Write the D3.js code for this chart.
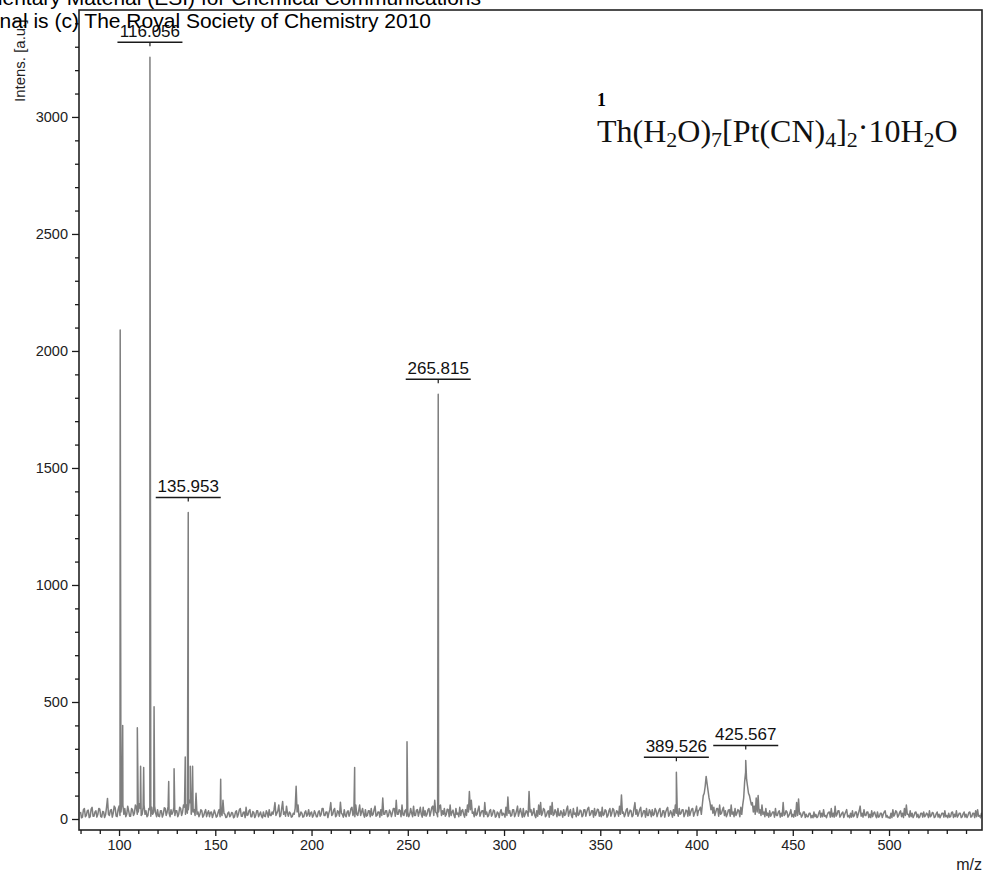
<!DOCTYPE html>
<html>
<head>
<meta charset="utf-8">
<script src="https://cdn.jsdelivr.net/npm/d3@7"></script>
<style>
  html, body { margin: 0; padding: 0; background: #fff; }
  svg { display: block; }
  text { font-family: "Liberation Sans", Arial, sans-serif; }
</style>
</head>
<body>
<svg id="chart" width="985" height="875"></svg>
<script>
// Mass spectrum of Th(H2O)7[Pt(CN)4]2·10H2O

// Baseline profile sampled every 0.5 m/z, starting at m/z 80 (one row per 10 m/z)
const profileStartMz = 80;
const profileStepMz = 0.5;
const profileIntensity = [
  30,5, 8,40, 45,10, 15,35, 38,6, 10,42, 50,12, 12,30, 35,8, 20,45,          // 80
  42,10, 8,32, 30,6, 18,50, 88,20, 15,38, 40,8, 25,55, 48,12, 10,40,         // 90
  55,15, 30,70, 60,20, 45,10, 20,55, 35,12, 12,45, 40,15, 25,60, 50,20,      // 100
  30,65, 45,15, 20,50, 60,20, 35,10, 15,45, 40,12, 50,20, 30,55, 25,10,      // 110
  40,12, 10,35, 35,8, 20,48, 45,15, 30,55, 25,10, 40,20, 30,50, 15,35,       // 120
  35,10, 20,50, 45,15, 30,60, 50,20, 60,25, 40,80, 70,20, 55,30, 40,15,      // 130
  110,20, 30,10, 20,40, 35,8, 15,30, 40,10, 25,35, 10,28, 30,6, 20,38,       // 140
  25,8, 12,30, 40,10, 30,15, 80,25, 20,6, 8,25, 30,10, 15,28, 25,5,          // 150
  10,30, 35,8, 20,40, 45,12, 12,28, 30,6, 50,15, 18,35, 40,10, 10,32,        // 160
  28,6, 15,35, 35,10, 20,30, 12,5, 30,12, 10,35, 25,8, 40,15, 15,30,         // 170
  20,40, 70,15, 25,35, 60,10, 15,45, 75,20, 30,12, 55,25, 12,30, 25,8,       // 180
  10,25, 20,45, 140,30, 60,10, 15,30, 25,8, 10,28, 35,12, 20,40, 12,25,      // 190
  30,8, 15,35, 25,10, 10,30, 35,12, 20,45, 45,15, 15,30, 30,6, 25,40,        // 200
  70,15, 20,38, 45,10, 15,35, 30,12, 72,25, 20,8, 40,15, 10,30, 35,12,       // 210
  25,45, 50,15, 30,10, 60,20, 15,35, 60,15, 30,45, 20,8, 40,12, 15,35,       // 220
  35,10, 45,15, 20,40, 55,12, 15,30, 30,8, 40,15, 90,20, 20,35, 35,10,       // 230
  15,38, 30,10, 25,45, 45,12, 80,20, 20,40, 35,10, 60,18, 15,35, 40,12,      // 240
  30,10, 20,45, 25,10, 55,15, 15,38, 40,12, 30,50, 20,8, 50,15, 35,12,       // 250
  20,40, 45,12, 30,50, 55,15, 80,30, 25,10, 30,55, 60,15, 35,20, 45,12,      // 260
  20,42, 40,10, 60,15, 30,38, 15,6, 45,20, 25,10, 50,15, 35,40, 20,8,        // 270
  40,15, 60,30, 117,40, 80,25, 30,10, 45,15, 20,40, 55,12, 25,35, 35,10,     // 280
  70,20, 30,10, 15,35, 40,12, 20,38, 35,8, 12,30, 25,6, 30,40, 15,25,        // 290
  20,8, 50,15, 94,25, 35,12, 15,40, 40,10, 20,35, 55,12, 30,45, 25,8,        // 300
  45,10, 20,35, 30,12, 118,30, 40,15, 25,45, 15,6, 35,12, 60,20, 70,15,      // 310
  25,45, 40,10, 15,30, 35,8, 55,20, 70,15, 20,40, 30,10, 45,15, 15,35,       // 320
  25,8, 40,15, 20,42, 55,12, 30,40, 15,6, 45,20, 25,10, 50,15, 20,38,        // 330
  35,10, 15,40, 40,12, 30,45, 50,15, 20,35, 35,8, 45,15, 25,42, 40,12,       // 340
  30,10, 50,15, 20,40, 35,8, 15,35, 45,12, 25,45, 40,10, 20,35, 30,12,       // 350
  55,20, 103,25, 30,10, 20,40, 45,12, 25,38, 35,10, 15,45, 70,20, 40,12,     // 360
  25,40, 50,10, 20,35, 35,8, 45,15, 15,40, 30,10, 40,15, 20,45, 35,10,       // 370
  25,38, 45,10, 15,35, 35,8, 30,42, 50,12, 20,35, 25,8, 40,15, 60,25,        // 380
  30,12, 45,20, 25,40, 40,10, 20,38, 35,12, 50,15, 30,42, 45,12, 25,35,      // 390
  55,15, 35,40, 50,20, 60,100, 110,140, 182,150, 120,90, 70,40, 60,25, 50,15, // 400
  30,45, 45,12, 60,20, 25,40, 50,15, 35,10, 20,38, 40,12, 60,20, 30,10,      // 410
  45,15, 25,40, 35,10, 50,20, 60,90, 160,200, 170,140, 110,100, 80,60, 70,30, // 420
  55,20, 90,30, 100,25, 40,15, 60,20, 30,10, 45,15, 25,8, 35,12, 20,30,      // 430
  30,8, 45,15, 15,30, 35,8, 25,12, 70,15, 20,35, 30,8, 15,25, 40,10,         // 440
  20,8, 35,12, 70,15, 85,20, 25,8, 15,30, 30,6, 20,10, 10,25, 25,5,          // 450
  15,5, 30,10, 20,6, 10,25, 35,8, 25,10, 40,12, 15,5, 20,28, 30,8,           // 460
  45,10, 25,8, 55,12, 20,35, 35,8, 15,25, 30,6, 20,30, 40,10, 15,5,          // 470
  25,8, 35,10, 15,30, 30,6, 20,35, 55,12, 25,8, 40,15, 15,30, 30,6,          // 480
  20,6, 35,10, 25,30, 15,5, 30,8, 10,25, 25,6, 20,30, 35,8, 15,5,            // 490
  8,3, 25,6, 40,12, 20,35, 30,8, 15,28, 35,10, 25,6, 45,15, 60,20,           // 500
  20,8, 35,10, 25,6, 15,28, 30,8, 20,5, 10,25, 25,8, 30,10, 15,25,           // 510
  20,6, 35,10, 15,28, 25,6, 10,22, 30,8, 20,5, 15,25, 25,8, 35,10,           // 520
  15,5, 25,8, 10,28, 30,6, 20,10, 35,8, 15,25, 25,6, 10,22, 30,8,            // 530
  20,6, 15,28, 30,8, 10,25, 25,6, 35,10, 40,12, 15,5, 25,10                  // 540
];

// Sharp peaks
const spikeMz        = [100.6, 101.9, 109.5, 111.2, 112.8, 116.056, 118.2, 125.8, 128.6, 134.4, 135.953, 137.0, 138.2, 152.8, 222.4, 249.6, 265.815, 389.526, 425.567];
const spikeIntensity = [2090,  400,   390,   225,   220,   3255,    480,   160,   215,   265,   1310,    225,   225,   170,   220,   330,   1815,    200,     250];

// Annotated peaks
const peakLabels = ["116.056", "135.953", "265.815", "389.526", "425.567"];

// Axes
const xTickValues = [100, 150, 200, 250, 300, 350, 400, 450, 500];
const xMinorTickValues = d3.range(80, 541, 10).filter(v => v % 50 !== 0);
const yTickValues = [0, 500, 1000, 1500, 2000, 2500, 3000];
const yMinorTickValues = d3.range(0, 3401, 100).filter(v => v % 500 !== 0);
const xAxisTitle = "m/z";
const yAxisTitle = "Intens. [a.u.]";

const headerLines = [
  "Electronic Supplementary Material (ESI) for Chemical Communications",
  "This journal is (c) The Royal Society of Chemistry 2010"
];

const compoundNumber = "1";

// ---- layout ----
const plot = { left: 79, right: 982, top: 10, bottom: 830 };
const traceColor = "#7f7f7f";
const axisColor = "#1a1a1a";

const svg = d3.select("#chart");

const x = d3.scaleLinear().domain([79.2, 548.3]).range([plot.left, plot.right]);
const y = d3.scaleLinear().domain([-47, 3457]).range([plot.bottom, plot.top]);

// ---- spectrum trace ----
const profilePoints = profileIntensity.map((v, i) => ({ mz: profileStartMz + i * profileStepMz, v }));
const spikePoints = spikeMz.map((mz, i) => ({ mz, v: spikeIntensity[i] }));
const spectrum = profilePoints.concat(spikePoints).sort((a, b) => a.mz - b.mz);

svg.append("clipPath").attr("id", "plot-clip")
  .append("rect")
  .attr("x", plot.left).attr("y", plot.top)
  .attr("width", plot.right - plot.left).attr("height", plot.bottom - plot.top);

const line = d3.line().x(d => x(d.mz)).y(d => y(d.v));

svg.append("path")
  .datum(spectrum)
  .attr("clip-path", "url(#plot-clip)")
  .attr("fill", "none")
  .attr("stroke", traceColor)
  .attr("stroke-width", 1.5)
  .attr("stroke-linejoin", "round")
  .attr("d", line);

// ---- frame ----
svg.append("rect")
  .attr("x", plot.left).attr("y", plot.top)
  .attr("width", plot.right - plot.left).attr("height", plot.bottom - plot.top)
  .attr("fill", "none")
  .attr("stroke", "#222")
  .attr("stroke-width", 1.6);

// ---- x axis ----
const xMinor = svg.append("g")
  .attr("transform", `translate(0,${plot.bottom})`)
  .call(d3.axisBottom(x).tickValues(xMinorTickValues).tickSize(4).tickFormat(""));
xMinor.select(".domain").remove();

const xMajor = svg.append("g")
  .attr("transform", `translate(0,${plot.bottom})`)
  .call(d3.axisBottom(x).tickValues(xTickValues).tickSize(6).tickPadding(4).tickFormat(d3.format("d")));
xMajor.select(".domain").remove();

// ---- y axis ----
const yMinor = svg.append("g")
  .attr("transform", `translate(${plot.left},0)`)
  .call(d3.axisLeft(y).tickValues(yMinorTickValues).tickSize(4).tickFormat(""));
yMinor.select(".domain").remove();

const yMajor = svg.append("g")
  .attr("transform", `translate(${plot.left},0)`)
  .call(d3.axisLeft(y).tickValues(yTickValues).tickSize(7).tickPadding(4).tickFormat(d3.format("d")));
yMajor.select(".domain").remove();

svg.selectAll(".tick line").attr("stroke", axisColor).attr("stroke-width", 1.3);
svg.selectAll(".tick text")
  .attr("fill", "#222")
  .style("font-family", '"Liberation Sans", Arial, sans-serif')
  .style("font-size", "14.5px");

// axis titles
svg.append("text")
  .attr("x", plot.right).attr("y", 870)
  .attr("text-anchor", "end")
  .style("font-size", "16px")
  .attr("fill", "#222")
  .text(xAxisTitle);

svg.append("text")
  .attr("transform", "translate(25,102) rotate(-90)")
  .attr("text-anchor", "start")
  .style("font-size", "15px")
  .attr("fill", "#222")
  .text(yAxisTitle);

// ---- peak annotations ----
const bracketHalf = 32.5;
peakLabels.forEach(label => {
  const mz = +label;
  const intensity = spikeIntensity[spikeMz.indexOf(mz)];
  const px = x(mz);
  const by = y(intensity) - 15;
  const g = svg.append("g");
  g.append("line")
    .attr("x1", px - bracketHalf).attr("x2", px + bracketHalf)
    .attr("y1", by).attr("y2", by)
    .attr("stroke", axisColor).attr("stroke-width", 1.4);
  g.append("line")
    .attr("x1", px).attr("x2", px)
    .attr("y1", by).attr("y2", by + 4)
    .attr("stroke", axisColor).attr("stroke-width", 1.2);
  g.append("text")
    .attr("x", px).attr("y", by - 5)
    .attr("text-anchor", "middle")
    .style("font-size", "17px")
    .attr("fill", "#111")
    .text(label);
});

// ---- compound name ----
const serif = '"Liberation Serif", "Times New Roman", serif';
svg.append("text")
  .attr("x", 597).attr("y", 106)
  .style("font-family", serif)
  .style("font-size", "18px")
  .style("font-weight", "bold")
  .text(compoundNumber);

const formula = svg.append("text")
  .attr("x", 597).attr("y", 142)
  .style("font-family", serif)
  .style("font-size", "32px")
  .attr("fill", "#111");

// [text, kind]: 0 = normal, 1 = subscript, 2 = raised dot
const formulaParts = [
  ["Th(H", 0], ["2", 1], ["O)", 0], ["7", 1], ["[Pt(CN)", 0], ["4", 1],
  ["]", 0], ["2", 1], ["·", 2], ["10H", 0], ["2", 1], ["O", 0]
];
let shift = 0;
formulaParts.forEach(([t, kind]) => {
  const target = kind === 1 ? 5 : kind === 2 ? -4 : 0;
  const ts = formula.append("tspan").attr("dy", target - shift).text(t);
  if (kind === 1) ts.style("font-size", "22px");
  shift = target;
});

// ---- header ----
svg.append("text")
  .attr("x", 481).attr("y", 5)
  .attr("text-anchor", "end")
  .style("font-size", "21px")
  .attr("fill", "#000")
  .text(headerLines[0]);
svg.append("text")
  .attr("x", 431).attr("y", 28)
  .attr("text-anchor", "end")
  .style("font-size", "21px")
  .attr("fill", "#000")
  .text(headerLines[1]);
</script>
</body>
</html>
